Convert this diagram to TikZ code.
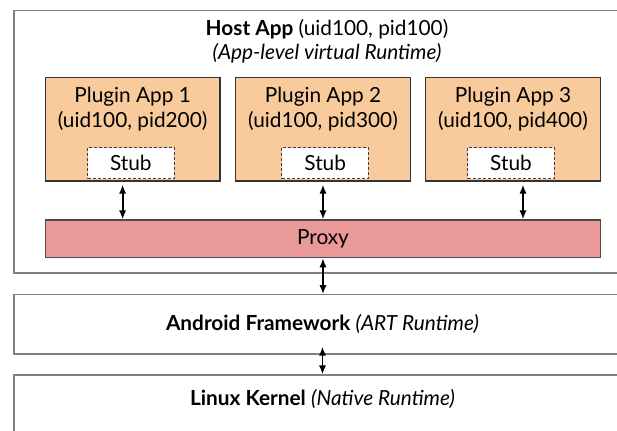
\documentclass[tikz,border=0pt]{standalone}
\usepackage{fontspec}
\setmainfont{Lato}
\usetikzlibrary{arrows.meta}
\definecolor{pluginfill}{HTML}{F9CB9C}
\definecolor{proxyfill}{HTML}{EA9999}
\begin{document}
\begin{tikzpicture}
  [x=0.5pt,y=-0.5pt,font=\fontsize{10.4}{12.8}\selectfont,
   layer/.style={draw=black!50,line width=0.6pt,minimum width=308.5pt},
   plugin/.style={draw=black!80,fill=pluginfill,line width=0.6pt,minimum width=87.3pt,minimum height=51.75pt},
   stubbox/.style={draw=black!75,fill=white,dash pattern=on 1.5pt off 1pt,line width=0.5pt,minimum width=43.25pt,minimum height=15.65pt},
   title/.style={align=center,inner sep=0pt},
   link/.style={{Latex[length=4.5pt,width=3.6pt]}-{Latex[length=4.5pt,width=3.6pt]},line width=0.9pt}]
  \useasboundingbox (0,0) rectangle (617,430);
  \clip (0,0) rectangle (617,430);

  % layers
  \node[layer,minimum width=313pt,minimum height=131.25pt] (host) at (327,141.75) {};
  \node[title,font=\fontsize{10.4}{12}\selectfont] (hostname) at (327,41.5) {\textbf{Host App} (uid100, pid100)\\\textit{(App-level virtual Runtime)}};
  \node[layer,minimum height=29.65pt] (android) at (322.5,324.4) {\textbf{Android Framework} \textit{(ART Runtime)}};
  \node[layer,minimum height=32.5pt] (linux) at (322.5,407.5) {};
  \node[title] (linuxname) at (322.5,399) {\textbf{Linux Kernel} \textit{(Native Runtime)}};

  % plugin apps
  \node[plugin] (p1) at (132.6,129.25) {};
  \node[plugin] (p2) at (323,129.25) {};
  \node[plugin] (p3) at (513,129.25) {};
  \node[title] (p1name) at (132.6,109) {Plugin App 1\\(uid100, pid200)};
  \node[title] (p2name) at (323,109) {Plugin App 2\\(uid100, pid300)};
  \node[title] (p3name) at (513,109) {Plugin App 3\\(uid100, pid400)};
  \node[stubbox] (s1) at (130.8,163.3) {Stub};
  \node[stubbox] (s2) at (325.2,163.3) {Stub};
  \node[stubbox] (s3) at (511,163.3) {Stub};

  \node[draw=black!70,fill=proxyfill,line width=0.6pt,minimum width=277.5pt,minimum height=18.85pt] (proxy) at (323,238.85) {Proxy};

  \draw [link] ([xshift=-5pt,yshift=-1.5pt]p1.south) -- ([xshift=-5pt]p1.south |- proxy.north);
  \draw [link] ([yshift=-1.5pt]p2.south) -- (p2.south |- proxy.north);
  \draw [link] ([xshift=5pt,yshift=-1.5pt]p3.south) -- ([xshift=5pt]p3.south |- proxy.north);
  \draw [link] (proxy.south) -- (proxy.south |- android.north);
  \draw [link] ([yshift=4pt]android.south) -- (linux.north);
\end{tikzpicture}
\end{document}
